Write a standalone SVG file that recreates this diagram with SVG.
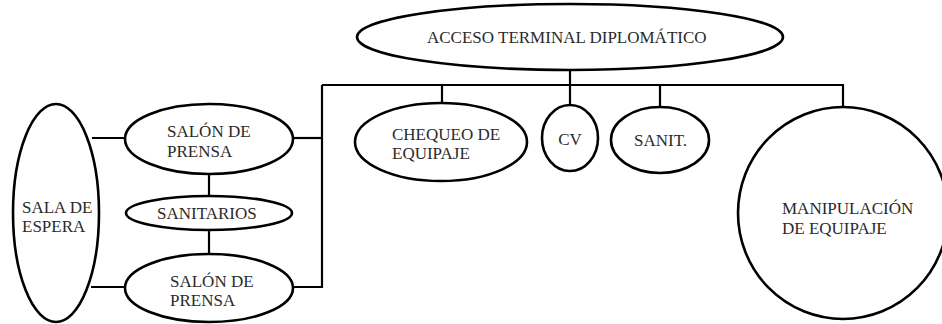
<svg xmlns="http://www.w3.org/2000/svg" width="942" height="324" viewBox="0 0 942 324">
<style>
.n{fill:#fff;stroke:#000;stroke-width:2.6}
.c{fill:none;stroke:#000;stroke-width:2.2}
text{font-family:'Liberation Serif','DejaVu Serif',serif;font-size:17px;fill:#2a2a2a}
</style>
<rect width="942" height="324" fill="#fff"/>
<g id="connectors">
<path class="c" d="M570,70 V105"/>
<path class="c" d="M322,85 H843 V107"/>
<path class="c" d="M442,85 V103"/>
<path class="c" d="M660,85 V107"/>
<path class="c" d="M322,85 V287 H293"/>
<path class="c" d="M293,138 H322"/>
<path class="c" d="M92,138 H125"/>
<path class="c" d="M91,287 H125"/>
<path class="c" d="M209,174 V197"/>
<path class="c" d="M209,230 V253"/>
</g>
<g id="acceso">
<ellipse class="n" cx="570" cy="37" rx="213" ry="33"/>
<text x="427" y="43">ACCESO TERMINAL DIPLOMÁTICO</text>
</g>
<g id="salon1">
<ellipse class="n" cx="209" cy="139" rx="84" ry="35"/>
<text x="167" y="137">SALÓN DE</text>
<text x="167" y="157">PRENSA</text>
</g>
<g id="sanitarios">
<ellipse class="n" cx="209" cy="213" rx="83" ry="17"/>
<text x="157" y="219">SANITARIOS</text>
</g>
<g id="salon2">
<ellipse class="n" cx="209" cy="288" rx="84" ry="34"/>
<text x="170" y="287">SALÓN DE</text>
<text x="170" y="306">PRENSA</text>
</g>
<g id="sala">
<ellipse class="n" cx="56" cy="213" rx="43" ry="109"/>
<text x="22" y="213">SALA DE</text>
<text x="22" y="232">ESPERA</text>
</g>
<g id="chequeo">
<ellipse class="n" cx="441" cy="142" rx="86" ry="39"/>
<text x="392" y="140">CHEQUEO DE</text>
<text x="392" y="159">EQUIPAJE</text>
</g>
<g id="cv">
<ellipse class="n" cx="570" cy="138" rx="28" ry="33"/>
<text x="570" y="145" text-anchor="middle">CV</text>
</g>
<g id="sanit">
<ellipse class="n" cx="660" cy="140" rx="49" ry="33"/>
<text x="634" y="146">SANIT.</text>
</g>
<g id="manipulacion">
<ellipse class="n" cx="843" cy="213" rx="105" ry="106"/>
<text x="782" y="214">MANIPULACIÓN</text>
<text x="782" y="234">DE EQUIPAJE</text>
</g>
</svg>
